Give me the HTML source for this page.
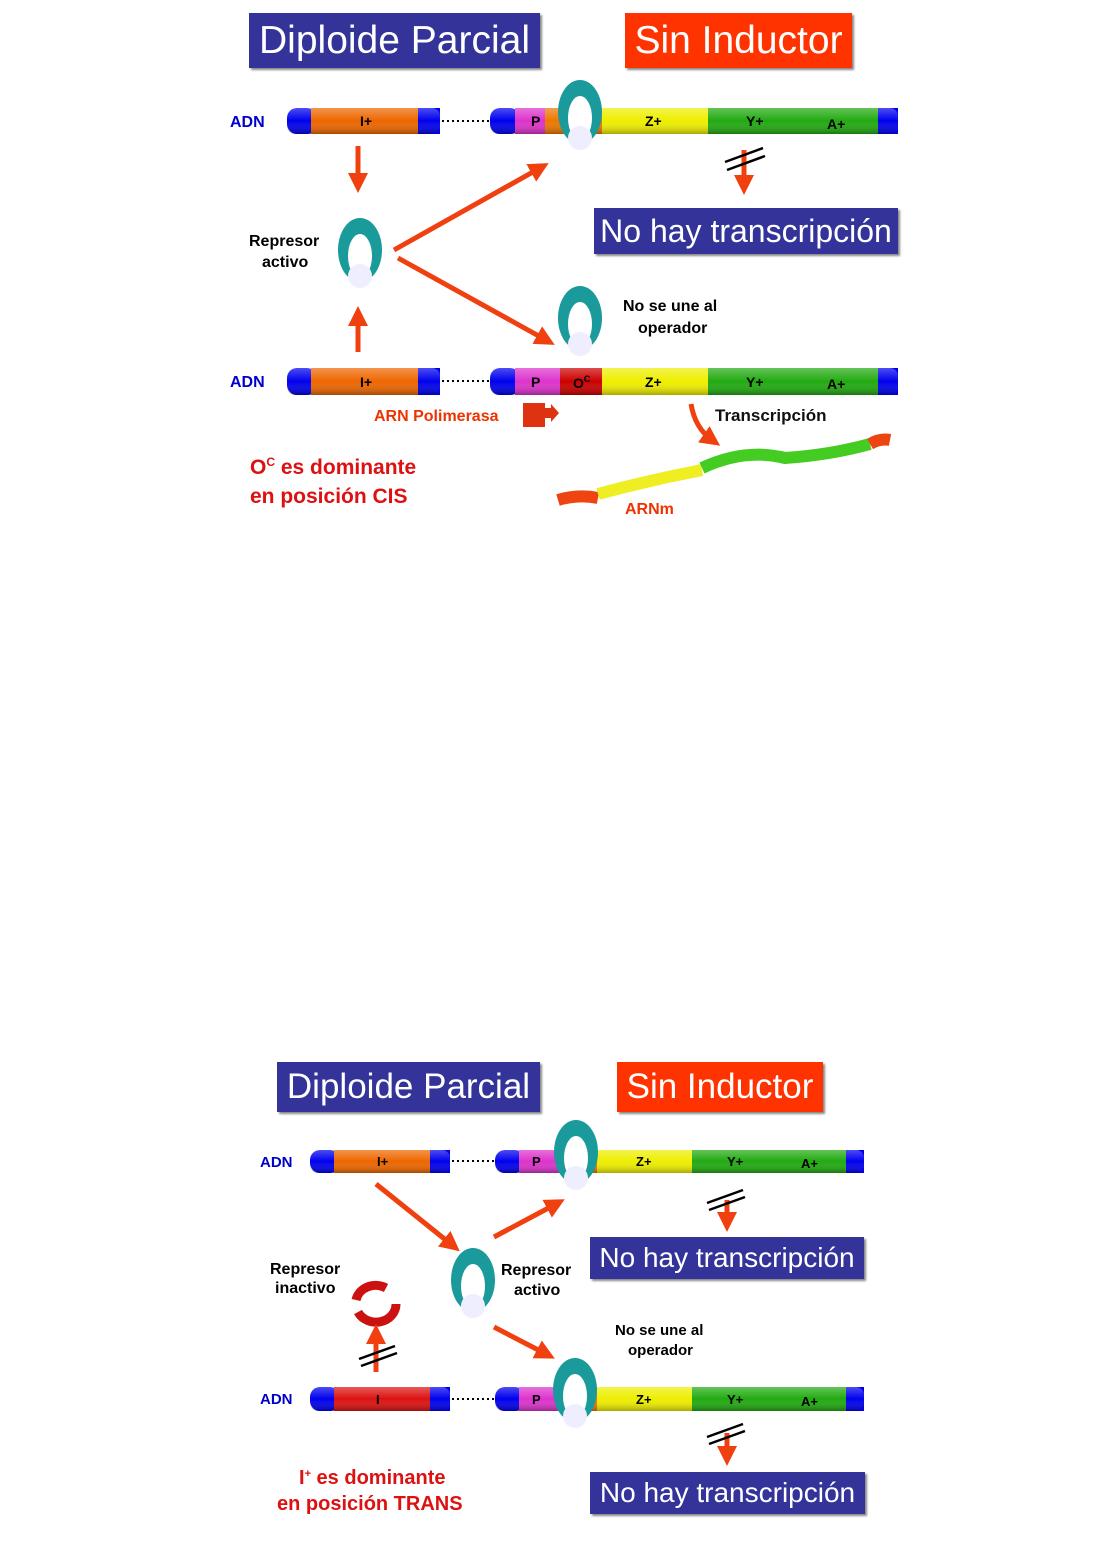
<!DOCTYPE html>
<html><head><meta charset="utf-8"><style>
body{margin:0;width:1118px;height:1565px;background:#fff;position:relative;font-family:"Liberation Sans",sans-serif;overflow:hidden}
.a{position:absolute}
.t{position:absolute;color:#fff;background:#333399;display:flex;align-items:center;justify-content:center;box-shadow:2px 2px 2px #888}
</style></head><body>
<div class="t" style="left:249px;top:13px;width:291px;height:55px;font-size:39px">Diploide Parcial</div>
<div class="t" style="left:625px;top:13px;width:227px;height:55px;font-size:39px;background:#ff3300">Sin Inductor</div>
<div class="t" style="left:594px;top:208px;width:304px;height:46px;font-size:32px">No hay transcripción</div>
<div class="t" style="left:277px;top:1062px;width:263px;height:50px;font-size:35px">Diploide Parcial</div>
<div class="t" style="left:617px;top:1062px;width:206px;height:50px;font-size:35px;background:#ff3300">Sin Inductor</div>
<div class="t" style="left:590px;top:1237px;width:274px;height:42px;font-size:28px">No hay transcripción</div>
<div class="t" style="left:590px;top:1472px;width:275px;height:42px;font-size:28px">No hay transcripción</div>

<svg class="a" style="left:0;top:0" width="1118" height="1565" font-family="Liberation Sans, sans-serif" font-weight="bold">
<defs>
<marker id="ah" markerWidth="4" markerHeight="4" refX="2" refY="2" orient="auto"><path d="M0,0L4,2L0,4z" fill="#f04010"/></marker>
<linearGradient id="g" x1="0" y1="0" x2="0" y2="1"><stop offset="0" stop-color="#fff" stop-opacity=".3"/><stop offset=".5" stop-color="#fff" stop-opacity="0"/><stop offset="1" stop-color="#000" stop-opacity=".3"/></linearGradient>
<g id="rep"><ellipse cx="0" cy="0" rx="22" ry="32" fill="#1a9a9a"/><ellipse cx="0" cy="6" rx="12" ry="22" fill="#fff"/><circle cx="0" cy="26" r="12" fill="#eef"/></g>
</defs>
<g font-size="14">
<text x="230" y="127" fill="#0000cc" font-size="16">ADN</text>
<rect x="287" y="108" width="30" height="26" rx="10" fill="#0000ee"/>
<rect x="311" y="108" width="107" height="26" fill="#ee6600"/><rect x="418" y="108" width="22" height="26" fill="#0000ee"/>
<line x1="442" y1="121" x2="490" y2="121" stroke="#000" stroke-width="2" stroke-dasharray="2,3"/>
<rect x="490" y="108" width="30" height="26" rx="10" fill="#0000ee"/>
<rect x="515" y="108" width="30" height="26" fill="#dd33cc"/><rect x="545" y="108" width="57" height="26" fill="#ee7700"/>
<rect x="602" y="108" width="106" height="26" fill="#eeee00"/><rect x="708" y="108" width="82" height="26" fill="#22aa11"/><rect x="790" y="108" width="88" height="26" fill="#22aa11"/><rect x="878" y="108" width="20" height="26" fill="#0000ee"/>
<rect x="287" y="108" width="153" height="26" rx="8" fill="url(#g)"/><rect x="490" y="108" width="408" height="26" rx="8" fill="url(#g)"/>
<text x="360" y="126">I+</text><text x="531" y="126">P</text><text x="574" y="128">O</text><text x="645" y="126">Z+</text><text x="746" y="126">Y+</text><text x="827" y="129">A+</text>
</g>
<use href="#rep" x="580" y="112"/>
<g font-size="14">
<text x="230" y="387" fill="#0000cc" font-size="16">ADN</text>
<rect x="287" y="368" width="30" height="27" rx="10" fill="#0000ee"/>
<rect x="311" y="368" width="107" height="27" fill="#ee6600"/><rect x="418" y="368" width="22" height="27" fill="#0000ee"/>
<line x1="442" y1="381" x2="490" y2="381" stroke="#000" stroke-width="2" stroke-dasharray="2,3"/>
<rect x="490" y="368" width="30" height="27" rx="10" fill="#0000ee"/>
<rect x="515" y="368" width="45" height="27" fill="#dd33cc"/><rect x="560" y="368" width="42" height="27" fill="#cc0000"/>
<rect x="602" y="368" width="106" height="27" fill="#eeee00"/><rect x="708" y="368" width="82" height="27" fill="#22aa11"/><rect x="790" y="368" width="88" height="27" fill="#22aa11"/><rect x="878" y="368" width="20" height="27" fill="#0000ee"/>
<rect x="287" y="368" width="153" height="27" rx="8" fill="url(#g)"/><rect x="490" y="368" width="408" height="27" rx="8" fill="url(#g)"/>
<text x="360" y="387">I+</text><text x="531" y="387">P</text><text x="573" y="388">O<tspan font-size="9" dy="-6">C</tspan></text><text x="645" y="387">Z+</text><text x="746" y="387">Y+</text><text x="827" y="389">A+</text>
</g>
<use href="#rep" x="360" y="250"/>
<use href="#rep" x="580" y="318"/>
<g stroke="#f04010" stroke-width="5" fill="none" marker-end="url(#ah)">
<line x1="358" y1="146" x2="358" y2="183"/><line x1="358" y1="352" x2="358" y2="316"/>
<line x1="394" y1="250" x2="540" y2="168"/><line x1="398" y1="258" x2="546" y2="340"/>
<line x1="744" y1="150" x2="744" y2="185"/>
<path d="M691 404 Q695 428 712 440"/>
</g>
<g stroke="#000" stroke-width="2.5"><line x1="725" y1="162" x2="763" y2="148"/><line x1="727" y1="170" x2="765" y2="156"/></g>
<text x="249" y="246" font-size="16">Represor</text><text x="262" y="267" font-size="16">activo</text>
<text x="623" y="311" font-size="16">No se une al</text><text x="638" y="333" font-size="16">operador</text>
<text x="374" y="421" font-size="16" fill="#ee3300">ARN Polimerasa</text>
<rect x="523" y="403" width="22" height="24" fill="#dd3311"/><path d="M545 408h6v-4l8 9-8 9v-4h-6z" fill="#dd3311"/>
<text x="715" y="421" font-size="17" fill="#111">Transcripción</text>
<text x="250" y="474" font-size="21" fill="#dd1111">O<tspan font-size="12" dy="-8">C</tspan><tspan dy="8"> es dominante</tspan></text>
<text x="250" y="503" font-size="21" fill="#dd1111">en posición CIS</text>
<g fill="none" stroke-width="12">
<path d="M558 500 Q578 494 598 498" stroke="#ee4411"/>
<path d="M598 494 Q650 480 702 470" stroke="#eeee22"/>
<path d="M702 468 Q745 448 785 458 Q830 455 870 444" stroke="#44cc22"/>
<path d="M870 444 Q880 438 890 440" stroke="#ee4411"/>
</g>
<text x="625" y="514" font-size="16" fill="#ee3300">ARNm</text>

<g font-size="13">
<text x="260" y="1167" fill="#0000cc" font-size="15">ADN</text>
<rect x="310" y="1150" width="30" height="23" rx="10" fill="#0000ee"/>
<rect x="334" y="1150" width="96" height="23" fill="#ee6600"/><rect x="430" y="1150" width="20" height="23" fill="#0000ee"/>
<line x1="452" y1="1161" x2="495" y2="1161" stroke="#000" stroke-width="2" stroke-dasharray="2,3"/>
<rect x="495" y="1150" width="30" height="23" rx="10" fill="#0000ee"/>
<rect x="519" y="1150" width="40" height="23" fill="#dd33cc"/><rect x="559" y="1150" width="38" height="23" fill="#ee7700"/>
<rect x="597" y="1150" width="95" height="23" fill="#eeee00"/><rect x="692" y="1150" width="78" height="23" fill="#22aa11"/><rect x="770" y="1150" width="76" height="23" fill="#22aa11"/><rect x="846" y="1150" width="18" height="23" fill="#0000ee"/>
<rect x="310" y="1150" width="140" height="23" rx="8" fill="url(#g)"/><rect x="495" y="1150" width="369" height="23" rx="8" fill="url(#g)"/>
<text x="377" y="1166">I+</text><text x="532" y="1166">P</text><text x="570" y="1167">O</text><text x="636" y="1166">Z+</text><text x="727" y="1166">Y+</text><text x="801" y="1168">A+</text>
</g>
<g font-size="13">
<text x="260" y="1404" fill="#0000cc" font-size="15">ADN</text>
<rect x="310" y="1387" width="30" height="24" rx="10" fill="#0000ee"/>
<rect x="334" y="1387" width="96" height="24" fill="#dd1111"/><rect x="430" y="1387" width="20" height="24" fill="#0000ee"/>
<line x1="452" y1="1399" x2="495" y2="1399" stroke="#000" stroke-width="2" stroke-dasharray="2,3"/>
<rect x="495" y="1387" width="30" height="24" rx="10" fill="#0000ee"/>
<rect x="519" y="1387" width="40" height="24" fill="#dd33cc"/><rect x="559" y="1387" width="38" height="24" fill="#ee7700"/>
<rect x="597" y="1387" width="95" height="24" fill="#eeee00"/><rect x="692" y="1387" width="78" height="24" fill="#22aa11"/><rect x="770" y="1387" width="76" height="24" fill="#22aa11"/><rect x="846" y="1387" width="18" height="24" fill="#0000ee"/>
<rect x="310" y="1387" width="140" height="24" rx="8" fill="url(#g)"/><rect x="495" y="1387" width="369" height="24" rx="8" fill="url(#g)"/>
<text x="376" y="1404">I</text><text x="532" y="1404">P</text><text x="570" y="1405">O</text><text x="636" y="1404">Z+</text><text x="727" y="1404">Y+</text><text x="801" y="1406">A+</text>
</g>
<use href="#rep" x="576" y="1152"/>
<use href="#rep" x="575" y="1390"/>
<use href="#rep" x="473" y="1280"/>
<g fill="none" stroke="#cc1111" stroke-width="9"><path d="M386 1288 A20 18 0 0 0 356 1300"/><path d="M358 1312 A20 18 0 0 0 396 1304"/></g>
<g stroke="#f04010" stroke-width="5" fill="none" marker-end="url(#ah)">
<line x1="376" y1="1184" x2="452" y2="1245"/><line x1="494" y1="1237" x2="556" y2="1204"/>
<line x1="494" y1="1327" x2="546" y2="1354"/>
<line x1="727" y1="1200" x2="727" y2="1222"/><line x1="727" y1="1433" x2="727" y2="1456"/>
<line x1="376" y1="1372" x2="376" y2="1334"/>
</g>
<g stroke="#000" stroke-width="2.5">
<line x1="707" y1="1203" x2="743" y2="1190"/><line x1="709" y1="1210" x2="745" y2="1197"/>
<line x1="707" y1="1437" x2="743" y2="1424"/><line x1="709" y1="1444" x2="745" y2="1431"/>
<line x1="359" y1="1359" x2="395" y2="1346"/><line x1="361" y1="1366" x2="397" y2="1353"/>
</g>
<text x="270" y="1274" font-size="16">Represor</text><text x="275" y="1293" font-size="16">inactivo</text>
<text x="501" y="1275" font-size="16">Represor</text><text x="514" y="1295" font-size="16">activo</text>
<text x="615" y="1335" font-size="15">No se une al</text><text x="628" y="1355" font-size="15">operador</text>
<text x="299" y="1484" font-size="20" fill="#dd1111">I<tspan font-size="11" dy="-7">+</tspan><tspan dy="7"> es dominante</tspan></text>
<text x="277" y="1510" font-size="20" fill="#dd1111">en posición TRANS</text>
</svg>
</body></html>
